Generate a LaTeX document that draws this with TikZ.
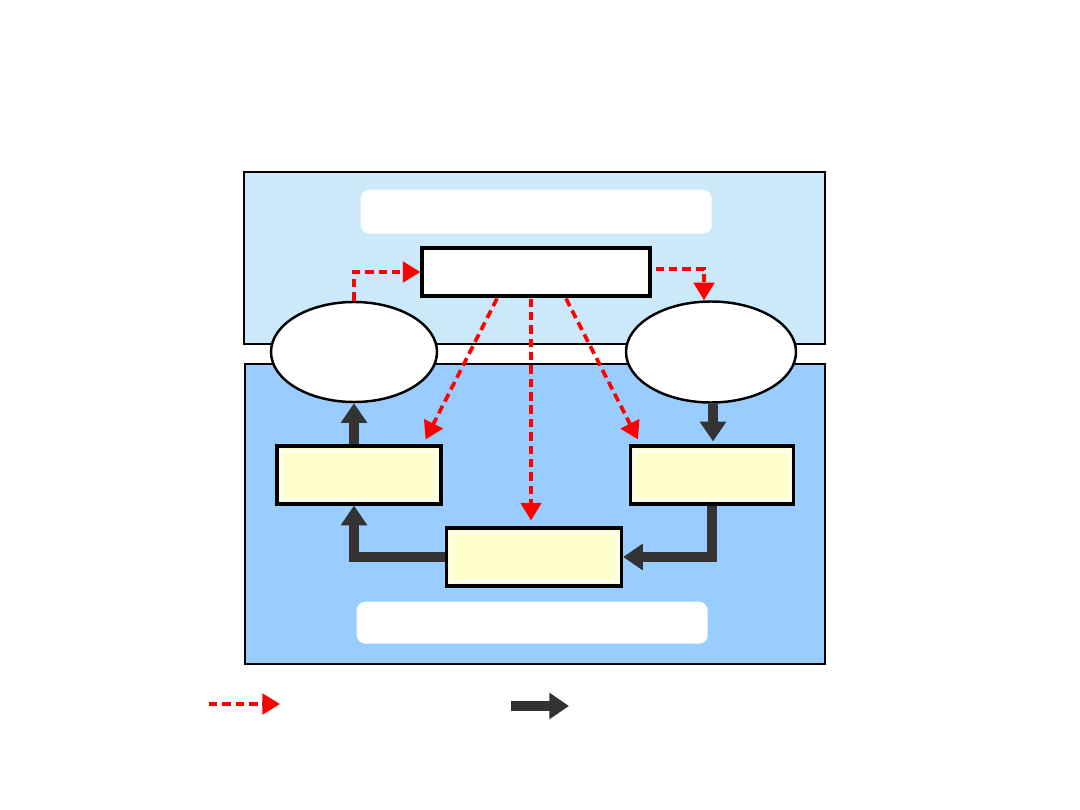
\documentclass[tikz,border=0pt]{standalone}
\usepackage{tikz}
\usetikzlibrary{positioning, calc, shapes.geometric, arrows.meta}
\definecolor{skyA}{RGB}{204,233,252}
\definecolor{skyB}{RGB}{153,204,255}
\definecolor{paleY}{RGB}{255,255,204}
\definecolor{darkG}{RGB}{51,51,51}

\begin{document}
\begin{tikzpicture}[x=0.01cm, y=-0.01cm,
  panel/.style={draw=black, line width=0.5pt, inner sep=0, anchor=north west},
  banner/.style={fill=white, rounded corners=2.5pt, inner sep=0, anchor=north west},
  yellowbox/.style={draw=black, line width=0.9pt, fill=paleY, inner sep=0,
    path picture={\draw[white, line width=0.6pt]
      ([shift={(1.3pt,1.3pt)}]path picture bounding box.south west) rectangle
      ([shift={(-1.3pt,-1.3pt)}]path picture bounding box.north east);}},
  oval/.style={ellipse, draw=black, line width=0.7pt, fill=white, inner sep=0},
  redarrow/.style={draw=red, line width=1.05pt, dash pattern=on 2.4pt off 1.4pt,
    -{Triangle[width=5.8pt, length=5pt]}},
  blockarrow/.style={draw=darkG, line width=3pt,
    -{Triangle[width=7.2pt, length=5.6pt]}}]
  \useasboundingbox (0,0) rectangle (1080,810);
  % panels
  \node[panel, fill=skyA, minimum width=581*0.01cm, minimum height=172*0.01cm] (top) at (243,171) {};
  \node[panel, fill=skyB, minimum width=580*0.01cm, minimum height=300*0.01cm] (bot) at (244,363) {};
  \node[banner, minimum width=351*0.01cm, minimum height=44*0.01cm] (topban) at (360,189) {};
  \node[banner, minimum width=351*0.01cm, minimum height=42*0.01cm] (botban) at (356,601) {};
  % nodes
  \node[draw=black, line width=0.9pt, fill=white, inner sep=0,
        minimum width=228*0.01cm, minimum height=48*0.01cm] (ctr) at (536,272) {};
  \node[oval, minimum width=166*0.01cm, minimum height=100*0.01cm] (le) at (354,352) {};
  \node[oval, minimum width=170*0.01cm, minimum height=101*0.01cm] (re) at (711,352) {};
  \node[yellowbox, minimum width=164*0.01cm, minimum height=58*0.01cm] (lb) at (359,475) {};
  \node[yellowbox, minimum width=163*0.01cm, minimum height=58*0.01cm] (rb) at (712,475) {};
  \node[yellowbox, minimum width=175*0.01cm, minimum height=58*0.01cm] (bb) at (534,557) {};
  % dashed red arrows
  \draw[redarrow] (le.north) |- (ctr.west);
  \draw[redarrow] ($(ctr.east)+(4,-3)$) -| ($(re.north)+(-7,0)$);
  \draw[redarrow] ($(ctr.south)+(-39,1)$) -- ($(lb.north east)+(-17,-5)$);
  \draw[redarrow] ($(ctr.south)+(-5,1)$) -- ($(bb.north)+(-3,-6)$);
  \draw[redarrow] ($(ctr.south)+(30,1)$) -- ($(rb.north west)+(9,-5)$);
  % dark arrows
  \draw[blockarrow] (lb.north -| le.south) -- (le.south);
  \draw[blockarrow] ($(re.south)+(2,0)$) -- ($(rb.north)+(1,-3)$);
  \draw[blockarrow] (rb.south) |- (bb.east);
  \draw[blockarrow] (bb.west) -| (lb.south -| le.south);
  % legend
  \coordinate (k1) at (209,704);
  \coordinate (k2) at (280,704);
  \coordinate (k3) at (511,706);
  \coordinate (k4) at (569,706);
  \draw[redarrow] (k1) -- (k2);
  \draw[blockarrow] (k3) -- (k4);
\end{tikzpicture}
\end{document}
